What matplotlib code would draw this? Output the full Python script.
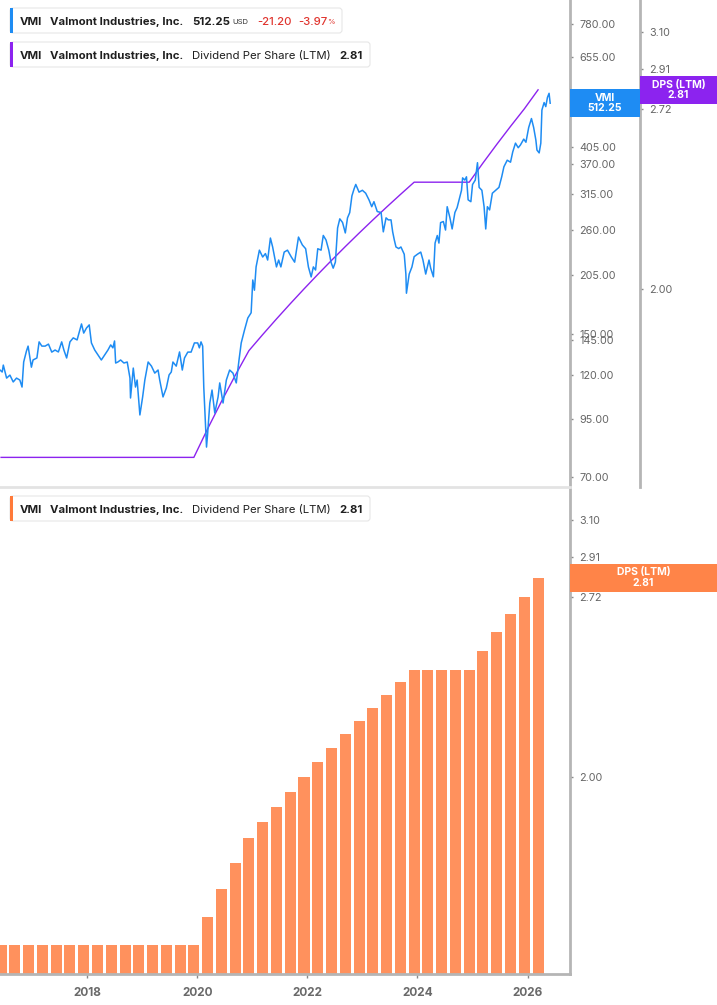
import numpy as np
import pandas as pd
import matplotlib
matplotlib.use("Agg")
import matplotlib.pyplot as plt
from matplotlib.patches import Rectangle, FancyBboxPatch
from matplotlib.transforms import IdentityTransform
from matplotlib.ticker import FixedLocator, NullLocator, FuncFormatter

W, H = 717, 1005
plt.rcParams["font.family"] = ["Inter", "DejaVu Sans"]

BLUE = "#1e8cf3"
PURPLE = "#8c23ef"
ORANGE = "#ff915d"
ORANGE_TAG = "#ff8448"
RED = "#e0352f"
INK = "#1f1f1f"
TICK = "#666666"
AXIS = "#b5b5b5"

# ---------------------------------------------------------------
# DATA
# ---------------------------------------------------------------
ticker = "VMI"
company = "Valmont Industries, Inc."
last_price = 512.25
change = "-21.20"
change_pct = "-3.97"
dps_last = 2.81

price_years = [
    2016.42, 2016.46, 2016.48, 2016.54, 2016.60, 2016.66, 2016.72, 2016.78, 2016.82, 2016.85,
    2016.90, 2016.93, 2016.99, 2017.02, 2017.09, 2017.13, 2017.18, 2017.24, 2017.30, 2017.36,
    2017.42, 2017.48, 2017.54, 2017.58, 2017.63, 2017.69, 2017.75, 2017.82, 2017.87, 2017.90,
    2017.94, 2017.99, 2018.04, 2018.08, 2018.14, 2018.20, 2018.26, 2018.32, 2018.38, 2018.43,
    2018.47, 2018.50, 2018.52, 2018.56, 2018.61, 2018.67, 2018.73, 2018.78, 2018.79, 2018.84,
    2018.88, 2018.91, 2018.96, 2019.01, 2019.05, 2019.11, 2019.17, 2019.23, 2019.29, 2019.32,
    2019.38, 2019.44, 2019.49, 2019.53, 2019.56, 2019.62, 2019.68, 2019.73, 2019.77, 2019.83,
    2019.89, 2019.95, 2020.01, 2020.04, 2020.07, 2020.10, 2020.12, 2020.17, 2020.19, 2020.23,
    2020.27, 2020.32, 2020.38, 2020.41, 2020.47, 2020.53, 2020.59, 2020.65, 2020.71, 2020.76,
    2020.80, 2020.86, 2020.92, 2020.98, 2021.01, 2021.04, 2021.07, 2021.13, 2021.19, 2021.24,
    2021.28, 2021.33, 2021.37, 2021.44, 2021.48, 2021.52, 2021.58, 2021.64, 2021.71, 2021.77,
    2021.84, 2021.91, 2021.97, 2022.02, 2022.07, 2022.11, 2022.15, 2022.19, 2022.25, 2022.29,
    2022.34, 2022.39, 2022.43, 2022.47, 2022.51, 2022.55, 2022.59, 2022.64, 2022.69, 2022.73,
    2022.77, 2022.81, 2022.85, 2022.88, 2022.94, 2023.00, 2023.06, 2023.12, 2023.17, 2023.21,
    2023.27, 2023.34, 2023.38, 2023.43, 2023.47, 2023.52, 2023.55, 2023.58, 2023.61, 2023.66,
    2023.70, 2023.76, 2023.79, 2023.80, 2023.85, 2023.90, 2023.94, 2024.00, 2024.06, 2024.10,
    2024.15, 2024.21, 2024.24, 2024.29, 2024.32, 2024.36, 2024.39, 2024.42, 2024.47, 2024.51,
    2024.54, 2024.59, 2024.63, 2024.68, 2024.72, 2024.77, 2024.80, 2024.82, 2024.86, 2024.89,
    2024.92, 2024.97, 2025.00, 2025.05, 2025.09, 2025.12, 2025.17, 2025.21, 2025.24, 2025.27,
    2025.31, 2025.36, 2025.42, 2025.48, 2025.53, 2025.57, 2025.63, 2025.69, 2025.73, 2025.78,
    2025.83, 2025.87, 2025.93, 2025.97, 2026.02, 2026.07, 2026.11, 2026.15, 2026.17, 2026.21,
    2026.24, 2026.26, 2026.30, 2026.33, 2026.36, 2026.39, 2026.41,
]
price_values = [
    123.5, 122.2, 126.8, 118.3, 120.2, 115.9, 118.3, 117.1, 112.8, 128.9,
    136.6, 140.3, 125.4, 130.3, 131.7, 143.5, 140.3, 140.3, 141.8, 135.9,
    137.4, 136.0, 143.5, 137.4, 131.7, 143.5, 146.6, 145.0, 152.9, 157.9,
    150.4, 154.5, 157.1, 142.7, 137.4, 133.8, 130.3, 133.8, 137.4, 141.2,
    139.0, 144.2, 128.2, 128.9, 130.3, 128.2, 128.9, 118.3, 106.4, 124.8,
    112.8, 117.1, 97.2, 107.0, 117.1, 128.9, 126.1, 121.5, 123.5, 117.1,
    107.0, 112.2, 120.3, 122.2, 128.9, 126.1, 136.0, 123.5, 131.7, 135.9,
    135.9, 142.7, 142.7, 139.0, 143.5, 140.3, 112.8, 81.9, 87.9, 103.6,
    111.0, 98.2, 107.0, 115.3, 103.6, 117.1, 123.5, 121.5, 115.3, 130.3,
    142.7, 152.9, 163.0, 167.6, 199.6, 189.0, 214.0, 234.0, 225.6, 229.8,
    222.0, 249.6, 238.2, 214.0, 222.0, 214.0, 231.6, 234.0, 225.6, 219.5,
    250.9, 240.6, 235.8, 214.0, 202.9, 214.0, 210.5, 235.8, 234.0, 253.1,
    247.0, 234.0, 219.5, 212.6, 219.6, 263.4, 276.5, 271.2, 256.5, 278.0,
    285.8, 312.5, 324.6, 332.2, 318.8, 322.0, 317.0, 306.0, 295.0, 303.0,
    287.5, 286.0, 258.0, 278.0, 275.0, 275.0, 258.0, 247.0, 238.0, 236.0,
    238.0, 229.0, 206.0, 186.0, 206.0, 214.0, 226.0, 229.0, 231.6, 222.0,
    206.0, 222.0, 212.6, 203.0, 243.0, 253.0, 243.0, 271.0, 272.6, 260.5,
    295.0, 278.0, 262.0, 286.0, 293.5, 311.0, 322.0, 344.0, 340.0, 346.0,
    306.0, 303.0, 332.0, 340.0, 373.0, 327.0, 322.0, 295.0, 262.0, 295.0,
    290.0, 317.0, 322.0, 327.0, 346.0, 365.0, 378.0, 374.0, 395.0, 414.0,
    404.0, 410.0, 423.0, 416.0, 450.0, 472.0, 450.0, 421.0, 399.0, 393.0,
    414.0, 494.0, 514.0, 503.0, 528.0, 540.0, 512.25,
]

# Dividend per share, last twelve months, quarterly (2016Q2 .. 2026Q1)
dps_quarters = pd.period_range("2016Q2", "2026Q1", freq="Q")
dps_ltm = [
    1.50, 1.50, 1.50, 1.50, 1.50, 1.50, 1.50, 1.50, 1.50, 1.50,
    1.50, 1.50, 1.50, 1.50, 1.50, 1.575, 1.65, 1.725, 1.80, 1.85,
    1.90, 1.95, 2.00, 2.05, 2.10, 2.15, 2.20, 2.25, 2.30, 2.35,
    2.40, 2.40, 2.40, 2.40, 2.40, 2.48, 2.56, 2.64, 2.72, 2.81,
]

price_ticks = [70, 95, 120, 145, 150, 205, 260, 315, 370, 405, 530, 655, 780]
dps_ticks = [2.00, 2.72, 2.91, 3.10]
year_ticks = [2018, 2020, 2022, 2024, 2026]

# bar / line x position inside each quarter
dps_x = np.array(dps_quarters.year + (dps_quarters.quarter - 1) * 0.25 + 0.19)

# ---------------------------------------------------------------
# FIGURE
# ---------------------------------------------------------------
fig = plt.figure(figsize=(W / 100, H / 100), dpi=100)
fig.patch.set_facecolor("white")


def rect(x0, y0, x1, y1):
    return [x0 / W, 1 - y1 / H, (x1 - x0) / W, (y1 - y0) / H]


fmt2 = FuncFormatter(lambda v, _: f"{v:.2f}")
XLIM = (2016.42, 2026.77)


def style_right(ax, ticks):
    ax.set_yscale("log")
    ax.yaxis.set_major_locator(FixedLocator(ticks))
    ax.yaxis.set_minor_locator(NullLocator())
    ax.yaxis.set_major_formatter(fmt2)
    ax.yaxis.tick_right()
    ax.yaxis.set_label_position("right")
    ax.tick_params(axis="y", which="major", direction="out", length=2.5, width=1,
                   color="#8a8a8a", pad=4, labelsize=7.8, labelcolor=TICK,
                   left=False, labelleft=False, right=True, labelright=True)
    for s in ("top", "left"):
        ax.spines[s].set_visible(False)
    ax.spines["right"].set_visible(True)
    ax.spines["right"].set_color(AXIS)
    ax.spines["right"].set_linewidth(2)


# --- top panel: price + DPS line
ax1 = fig.add_axes(rect(0, 0, 570, 487))
ax1b = ax1.twinx()

ax1.plot(price_years, price_values, color=BLUE, lw=1.1, zorder=3)
style_right(ax1, price_ticks)
ax1.set_ylim(66.2, 888)
ax1.set_xlim(*XLIM)
ax1.set_xticks([])
ax1.spines["bottom"].set_color("#e3e3e3")
ax1.spines["bottom"].set_linewidth(2)

ax1b.plot(dps_x, dps_ltm, color=PURPLE, lw=1.0, zorder=2)
style_right(ax1b, dps_ticks)
ax1b.set_ylim(1.426, 3.276)
ax1b.spines["right"].set_position(("outward", 50.4))
ax1b.spines["bottom"].set_visible(False)
ax1b.set_xlim(*XLIM)
ax1.set_zorder(ax1b.get_zorder() + 1)
ax1.patch.set_visible(False)

# --- bottom panel: DPS bars
ax2 = fig.add_axes(rect(0, 487, 570, 974))
ax2.bar(dps_x, np.array(dps_ltm) - 1.0, bottom=1.0, width=0.2, color=ORANGE,
        edgecolor="none")
style_right(ax2, dps_ticks)
ax2.set_ylim(1.428, 3.28)
ax2.set_xlim(*XLIM)
ax2.spines["bottom"].set_color(AXIS)
ax2.spines["bottom"].set_linewidth(2)
ax2.set_xticks(year_ticks)
ax2.set_xticklabels([str(y) for y in year_ticks])
ax2.tick_params(axis="x", direction="out", length=3, width=1, color="#8a8a8a",
                pad=6, labelsize=8.5, labelcolor="#6a6a6a")
for lab in ax2.get_xticklabels():
    lab.set_fontweight("bold")

# ---------------------------------------------------------------
# LEGEND BOXES AND PRICE TAGS (pixel coordinates, top-left origin)
# ---------------------------------------------------------------
IDT = IdentityTransform()


def ptext(x, y, s, **kw):
    fig.text(x, H - y, s, transform=IDT, **kw)


def legend_box(x0, y0, x1, y1, color):
    fig.add_artist(FancyBboxPatch((x0, H - y1), x1 - x0, y1 - y0,
                                  boxstyle="round,pad=0,rounding_size=3",
                                  transform=IDT, fc="white", ec="#e6e6e6", lw=0.8))
    fig.add_artist(Rectangle((x0, H - y1), 3, y1 - y0, transform=IDT,
                             fc=color, ec="none"))


LFS = 8.2


def series_legend(y0, y1, color, metric, value):
    legend_box(10, y0, 370, y1, color)
    yc = (y0 + y1) / 2
    kw = dict(va="center_baseline", fontsize=LFS, color=INK)
    ptext(20, yc, ticker, fontweight="bold", **kw)
    ptext(50, yc, company, fontweight="bold", **kw)
    ptext(192, yc, metric, **kw)
    ptext(339, yc, f"{value:.2f}", fontweight="bold", **kw)


# price legend
legend_box(10, 8, 342, 33, BLUE)
kw = dict(va="center_baseline", fontsize=LFS, color=INK)
ptext(20, 20.5, ticker, fontweight="bold", **kw)
ptext(50, 20.5, company, fontweight="bold", **kw)
ptext(192, 20.5, f"{last_price:.2f}", fontweight="bold", **kw)
ptext(232, 21.5, "USD", va="center_baseline", fontsize=5.5, color="#333333")
ptext(257, 20.5, change, va="center_baseline", fontsize=LFS, color=RED, fontweight="medium")
ptext(298, 20.5, change_pct, va="center_baseline", fontsize=LFS, color=RED, fontweight="medium")
ptext(327, 21.5, "%", va="center_baseline", fontsize=5.5, color=RED)

series_legend(42, 67, PURPLE, "Dividend Per Share (LTM)", dps_last)
series_legend(496, 521, "#ff7a3a", "Dividend Per Share (LTM)", dps_last)


def y_of(ax, val):
    return H - ax.transData.transform((XLIM[0], val))[1]


def tag(x0, x1, yc, color, text):
    fig.add_artist(Rectangle((x0, H - yc - 14), x1 - x0, 28, transform=IDT,
                             fc=color, ec="none", zorder=5))
    ptext((x0 + x1) / 2, yc, text, ha="center", va="center", fontsize=7.5,
          fontweight="bold", color="white", linespacing=1.05, zorder=6)


tag(570, 640, y_of(ax1, last_price), BLUE, f"{ticker}\n{last_price:.2f}")
tag(640, 717, y_of(ax1b, dps_last), PURPLE, f"DPS (LTM)\n{dps_last:.2f}")
tag(570, 717, y_of(ax2, dps_last), ORANGE_TAG, f"DPS (LTM)\n{dps_last:.2f}")

fig.savefig("out.png", dpi=100, facecolor="white")
